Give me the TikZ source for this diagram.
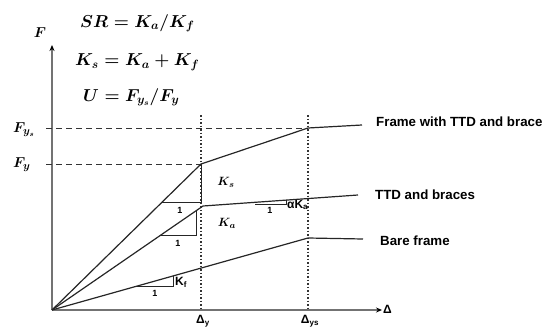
\documentclass[tikz,border=0pt]{standalone}
\usepackage{fontspec}
\setsansfont{Liberation Sans}
\usepackage{amsmath}
\usetikzlibrary{arrows.meta,positioning}

\begin{document}
\begin{tikzpicture}[x=1pt, y=-1pt,
    axis/.style={draw=black!55, line width=1.6pt, -{Stealth[length=6pt,width=5pt,color=black]}},
    curve/.style={draw=black!85, line width=1.2pt},
    guide/.style={draw=black!80, line width=1.2pt, dash pattern=on 1.5pt off 2pt},
    level/.style={draw=black!80, line width=0.9pt, dash pattern=on 6pt off 4pt},
    slope/.style={draw=black!85, line width=0.9pt},
    formula/.style={font=\fontsize{17}{20}\selectfont\boldmath, anchor=west, inner sep=0pt},
    force/.style={font=\fontsize{15}{18}\selectfont\boldmath, inner sep=0pt},
    stiff/.style={font=\fontsize{13}{15}\selectfont\boldmath, inner sep=0pt},
    legend/.style={font=\sffamily\bfseries\fontsize{13.3}{15}\selectfont, anchor=west, inner sep=0pt},
    unit/.style={font=\sffamily\bfseries\fontsize{9}{10}\selectfont, inner sep=0pt},
    disp/.style={font=\sffamily\bfseries\fontsize{12}{13}\selectfont, inner sep=0pt},
  ]
  \useasboundingbox (0,0) rectangle (555,327);

  % Definitions
  \node [formula] (srdef) at (80,23) {$SR = K_a/K_f$};
  \node [formula] (ksdef) at (75,62) {$K_s = K_a + K_f$};
  \node [formula] (udef) at (83,97) {$U = F_{y_s}/F_y$};

  % Axes
  \coordinate (origin) at (52,310);
  \coordinate (ftop) at (52,45);
  \coordinate (dend) at (382,310);
  \draw [axis] (origin) -- (ftop);
  \draw [axis] (origin) -- (dend);
  \node [force] (flabel) at (40,33) {$F$};
  \node [disp, anchor=west] (dlabel) at (383,309) {Δ};

  % Knee points
  \coordinate (yield) at (201,164);
  \coordinate (yields) at (308,128);
  \coordinate (frameend) at (362,125);
  \coordinate (ttdknee) at (203,206);
  \coordinate (ttdend) at (358,195);
  \coordinate (bareknee) at (308,238);
  \coordinate (bareend) at (363,239);

  % Yield guides
  \coordinate (dytop) at (201,115);
  \coordinate (dybot) at (201,310);
  \coordinate (dystop) at (308,115);
  \coordinate (dysbot) at (308,310);
  \coordinate (fystart) at (46,164);
  \coordinate (fysstart) at (46,128);
  \draw [guide] (dytop) -- (dybot);
  \draw [guide] (dystop) -- (dysbot);
  \draw [level] (fysstart) -- (yields);
  \draw [level] (fystart) -- (yield);
  \node [force, anchor=west] (fyslabel) at (13,130) {$F_{y_s}$};
  \node [force, anchor=west] (fylabel) at (13,165) {$F_y$};
  \node [disp] (dylabel) at (203,321) {Δ\textsubscript{y}};
  \node [disp] (dyslabel) at (310,321) {Δ\textsubscript{ys}};

  % Response curves
  \draw [curve] (origin) -- (yield) -- (yields) -- (frameend);
  \draw [curve] (origin) -- (ttdknee) -- (ttdend);
  \draw [curve] (origin) -- (bareknee) -- (bareend);
  \node [legend] (framelabel) at (376,122) {Frame with TTD and brace};
  \node [legend] (ttdlabel) at (375,195) {TTD and braces};
  \node [legend] (barelabel) at (380,241) {Bare frame};

  % Stiffness triangles
  \coordinate (ksfoot) at (162,202);
  \coordinate (kscorner) at (201,202);
  \draw [slope] (ksfoot) -- (kscorner) -- (yield);
  \node [unit] (ksone) at (180,210) {1};
  \node [stiff] (kslabel) at (226,182) {$K_s$};

  \coordinate (kafoot) at (161,235);
  \coordinate (kacorner) at (196,235);
  \coordinate (katop) at (196,211);
  \draw [slope] (kafoot) -- (kacorner) -- (katop);
  \node [unit] (kaone) at (178,243) {1};
  \node [stiff] (kalabel) at (227,223) {$K_a$};

  \coordinate (kffoot) at (137,286);
  \coordinate (kfcorner) at (173,286);
  \coordinate (kftop) at (173,276);
  \draw [slope] (kffoot) -- (kfcorner) -- (kftop);
  \node [unit] (kfone) at (155,293) {1};
  \node [disp, anchor=west] (kflabel) at (175,282) {K\textsubscript{f}};

  \coordinate (akfoot) at (255,204);
  \coordinate (akcorner) at (286,204);
  \coordinate (aktop) at (286,200);
  \draw [slope] (akfoot) -- (akcorner) -- (aktop);
  \node [unit] (akone) at (270,210) {1};
  \node [disp, anchor=west] (aklabel) at (287,205) {αK\textsubscript{a}};
\end{tikzpicture}
\end{document}
